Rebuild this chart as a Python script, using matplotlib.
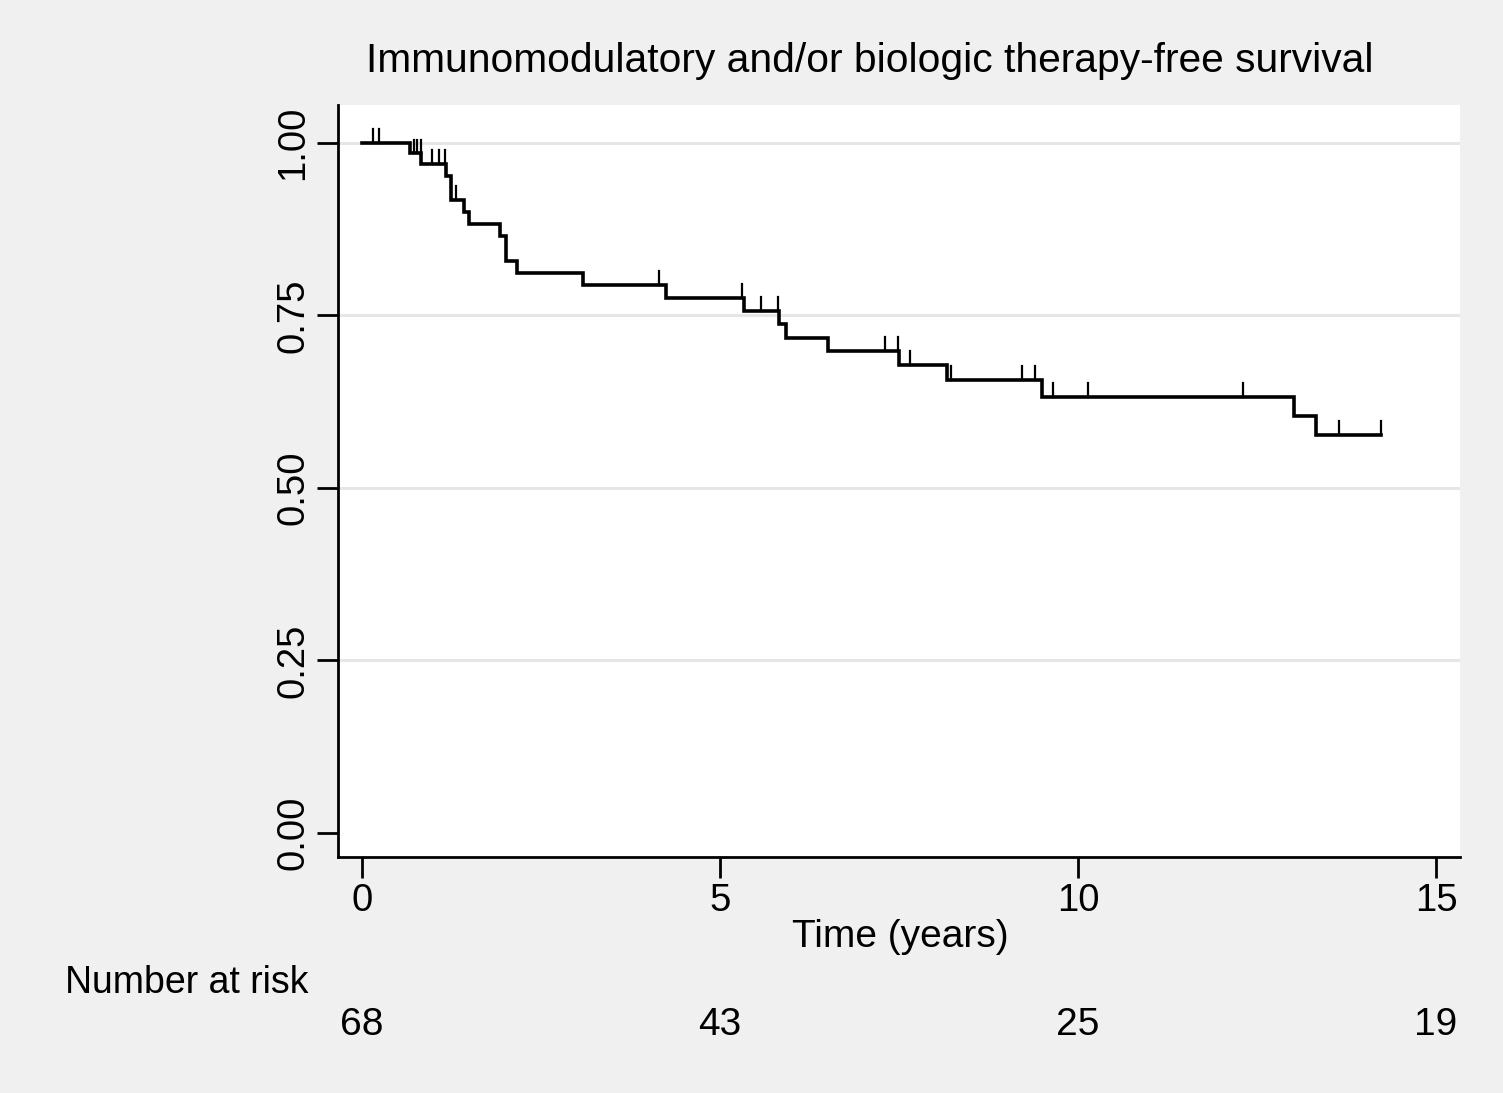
import matplotlib
matplotlib.use("Agg")
import matplotlib.pyplot as plt
from matplotlib.transforms import blended_transform_factory

plt.rcParams['font.family'] = ['Liberation Sans', 'DejaVu Sans']

# Kaplan-Meier step data
step_times = [0, 0.67, 0.83, 1.17, 1.25, 1.42, 1.50, 1.93, 2.01, 2.16, 3.08, 4.25,
              5.33, 5.83, 5.92, 6.51, 7.50, 8.17, 9.50, 13.01, 13.32, 14.23]
step_surv = [1.0, 0.985, 0.970, 0.952, 0.918, 0.900, 0.882, 0.865, 0.829, 0.812,
             0.794, 0.775, 0.757, 0.737, 0.718, 0.699, 0.678, 0.657, 0.632, 0.604,
             0.577, 0.577]
censor_times = [0.16, 0.24, 0.73, 0.77, 0.82, 0.98, 1.08, 1.16, 1.31, 4.15, 5.31,
                5.57, 5.81, 7.31, 7.49, 7.65, 8.22, 9.22, 9.40, 9.65, 10.14, 12.31,
                13.65, 14.23]

risk_times = [0, 5, 10, 15]
risk_counts = ["68", "43", "25", "19"]

x_ticks = [0, 5, 10, 15]
y_ticks = [0.0, 0.25, 0.5, 0.75, 1.0]

title = "Immunomodulatory and/or biologic therapy-free survival"
xlabel = "Time (years)"

W, H = 1503, 1093
fig = plt.figure(figsize=(W / 100, H / 100), dpi=100)
fig.patch.set_facecolor('#f0f0f0')

left, right, top, bottom = 338, 1460, 105, 857
ax = fig.add_axes([left / W, 1 - bottom / H, (right - left) / W, (bottom - top) / H])
ax.set_facecolor('white')

ax.set_xlim(-0.335, 15.335)
ax.set_ylim(-0.0348, 1.055)

for yv in y_ticks[1:]:
    ax.axhline(yv, color='#e6e6e6', lw=2.2, zorder=1)

ax.plot(step_times, step_surv, drawstyle='steps-post', color='black', lw=2.6,
        zorder=3, solid_joinstyle='miter')


def surv_at(t):
    s = step_surv[0]
    for tt, ss in zip(step_times, step_surv):
        if tt <= t:
            s = ss
    return s


tick_h = 0.02
for ct in censor_times:
    s = surv_at(ct)
    ax.plot([ct, ct], [s, s + tick_h], color='black', lw=1.6, zorder=3)

for sp in ['top', 'right']:
    ax.spines[sp].set_visible(False)
for sp in ['left', 'bottom']:
    ax.spines[sp].set_linewidth(2.0)
    ax.spines[sp].set_color('black')

ax.set_xticks(x_ticks)
ax.set_xticklabels([str(v) for v in x_ticks])
ax.set_yticks(y_ticks)
ax.set_yticklabels(["%.2f" % v for v in y_ticks], rotation=90, va='center')
ax.tick_params(axis='both', direction='out', length=15, width=2.0, labelsize=27.5,
               color='black', pad=4)

fig.text(870 / W, 1 - 61 / H, title, ha='center', va='center', fontsize=29.3)
fig.text(900 / W, 1 - 937 / H, xlabel, ha='center', va='center', fontsize=28)
fig.text(65 / W, 1 - 983 / H, "Number at risk", ha='left', va='center', fontsize=27)

trans = blended_transform_factory(ax.transData, fig.transFigure)
for t, n in zip(risk_times, risk_counts):
    ax.text(t, 1 - 1025 / H, n, transform=trans, ha='center', va='center',
            fontsize=28, clip_on=False)

fig.savefig("out.png", dpi=100, facecolor=fig.get_facecolor())
